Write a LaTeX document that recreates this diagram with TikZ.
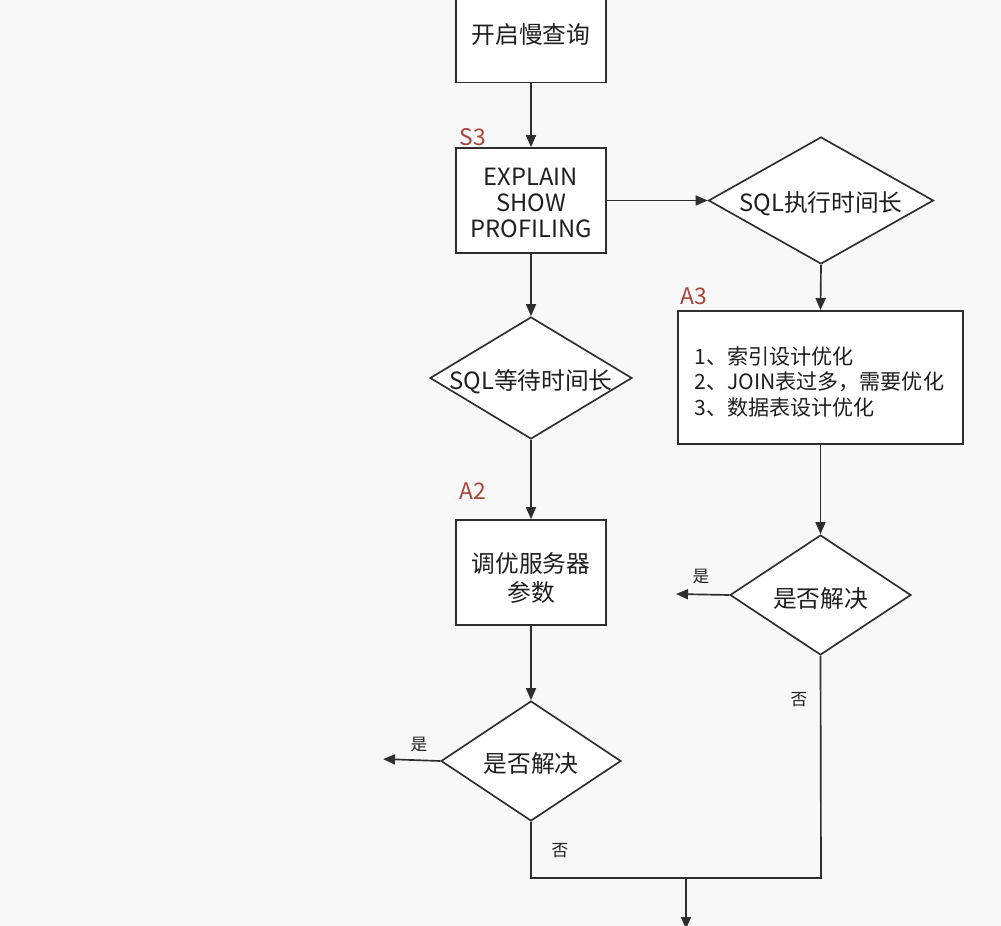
\documentclass[tikz,border=0pt]{standalone}
\usepackage{fontspec}
\setmainfont{Noto Sans CJK SC}
\usetikzlibrary{arrows.meta,shapes.geometric}
\definecolor{bgc}{HTML}{F8F8F8}
\definecolor{linec}{HTML}{2E2E2E}
\definecolor{tagc}{HTML}{A8453A}
\definecolor{txtc}{HTML}{1E1E1E}
\tikzset{
  stepbox/.style={draw=linec, line width=0.95pt, fill=white, inner sep=0pt,
    text=txtc, align=center, font=\fontsize{13.5}{15}\selectfont},
  dia/.style={draw=linec, line width=0.95pt, fill=white, diamond, inner sep=0pt},
  dtxt/.style={text=txtc, inner sep=0pt, font=\fontsize{13.5}{15.5}\selectfont},
  tag/.style={text=tagc, font=\fontsize{13}{15}\selectfont, inner sep=0pt},
  small/.style={text=txtc, font=\fontsize{9.5}{11}\selectfont, inner sep=0pt},
  flow/.style={draw=linec, line width=0.95pt, -{Triangle[length=0.24cm,width=0.2cm]}},
  wire/.style={draw=linec, line width=0.95pt}
}
\begin{document}
\begin{tikzpicture}[x=0.02cm, y=-0.02cm]
  \fill[bgc] (0,0) rectangle (1001,926);
  \useasboundingbox (0,0) rectangle (1001,926);
  \clip (0,0) rectangle (1001,926);

  % process boxes
  \node[stepbox, minimum width=3cm, minimum height=1.9cm] (start) at (531,35) {开启慢查询};
  \node[stepbox, minimum width=3cm, minimum height=2.1cm] (explain) at (531,200.5) {};
  \node[dtxt, align=center, font=\fontsize{13.5}{15}\selectfont]
        (explainText) at (531,203) {EXPLAIN\\SHOW\\PROFILING};
  \node[stepbox, minimum width=3cm, minimum height=2.1cm] (tune) at (531,572.5) {};
  \node[dtxt, align=center, font=\fontsize{13.5}{17}\selectfont]
        (tuneText) at (531,578) {调优服务器\\参数};
  \node[stepbox, minimum width=5.7cm, minimum height=2.66cm] (opt) at (820.5,377.5) {};
  \node[dtxt, align=left, anchor=west, font=\fontsize{12}{14.5}\selectfont]
        (optText) at (694,382)
        {1、索引设计优化\\2、JOIN表过多，需要优化\\3、数据表设计优化};

  % decisions
  \node[dia, minimum width=4.5cm, minimum height=2.54cm] (exec) at (821,200.5) {};
  \node[dia, minimum width=4.04cm, minimum height=2.44cm] (wait) at (531,378) {};
  \node[dia, minimum width=3.62cm, minimum height=2.4cm] (solvedR) at (820.5,595) {};
  \node[dia, minimum width=3.6cm, minimum height=2.4cm] (solvedL) at (531,761) {};
  \node[dtxt] (execText) at (821,204) {SQL执行时间长};
  \node[dtxt] (waitText) at (531,381.5) {SQL等待时间长};
  \node[dtxt] (solvedRText) at (820.5,598.5) {是否解决};
  \node[dtxt] (solvedLText) at (531,764) {是否解决};

  % step tags
  \node[tag] (s3) at (473,137) {S3};
  \node[tag] (a3) at (694,296) {A3};
  \node[tag] (a2) at (473,491) {A2};

  % free ends
  \coordinate (yesR) at (676,594);
  \coordinate (yesL) at (383,759);
  \coordinate (cornerL) at (531,878);
  \coordinate (cornerR) at (821,878);
  \coordinate (merge) at (686,878);
  \coordinate (out) at (686,929);

  % connectors
  \draw[flow] (start) -- (explain);
  \draw[flow] (explain.east) -- (exec.west);
  \draw[flow] (explain) -- (wait.north);
  \draw[flow] (exec.south) -- (opt.north);
  \draw[flow] (wait.south) -- (tune.north);
  \draw[flow] (opt.south) -- (solvedR.north);
  \draw[flow] (tune.south) -- (solvedL.north);
  \draw[flow] (solvedR.west) -- (yesR);
  \draw[flow] (solvedL.west) -- (yesL);
  \draw[wire] (solvedL.south) -- (cornerL) -- (cornerR) -- (solvedR.south);
  \draw[flow] (merge) -- (out);

  % branch labels
  \node[small] (yesRl) at (701,577) {是};
  \node[small] (yesLl) at (419,745) {是};
  \node[small] (noR) at (799,700) {否};
  \node[small] (noL) at (560,851) {否};
\end{tikzpicture}
\end{document}
